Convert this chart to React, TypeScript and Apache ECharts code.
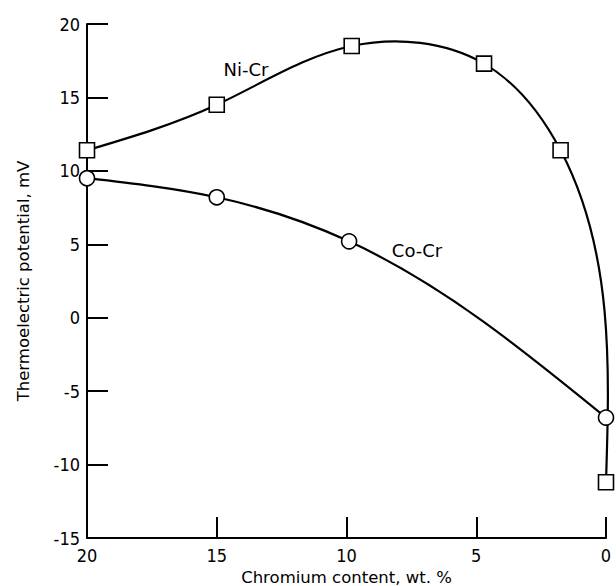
import React, { useEffect, useRef } from "react";
import * as echarts from "echarts";

// Chromium content (wt. %) and thermoelectric potential (mV)
const niCrChromium = [20, 15, 9.8, 4.7, 1.75, 0];
const niCrPotential = [11.4, 14.5, 18.5, 17.3, 11.4, -11.2];
const coCrChromium = [20, 15, 9.9, 0];
const coCrPotential = [9.5, 8.2, 5.2, -6.8];

const xTicks = { min: 0, max: 20, interval: 5 };
const yTicks = { min: -15, max: 20, interval: 5 };

const TICK_FONT = "'DejaVu Sans Condensed', 'Liberation Sans Narrow', sans-serif";
const TEXT_FONT = "'DejaVu Sans', 'Liberation Sans', sans-serif";

const pairs = (xs: number[], ys: number[]) => xs.map((x, i) => [x, ys[i]]);

// Second derivatives of a natural cubic spline through values v at knots t.
function naturalSecondDerivs(t: number[], v: number[]): number[] {
  const n = t.length;
  const M = new Array(n).fill(0);
  if (n < 3) return M;
  const h = t.slice(1).map((ti, i) => ti - t[i]);
  const s = h.map((hi, i) => (v[i + 1] - v[i]) / hi);
  const m = n - 2;
  const a: number[] = [], b: number[] = [], c: number[] = [], d: number[] = [];
  for (let i = 1; i <= m; i++) {
    a.push(h[i - 1]);
    b.push(2 * (h[i - 1] + h[i]));
    c.push(h[i]);
    d.push(6 * (s[i] - s[i - 1]));
  }
  for (let i = 1; i < m; i++) {
    const w = a[i] / b[i - 1];
    b[i] -= w * c[i - 1];
    d[i] -= w * d[i - 1];
  }
  const x = new Array(m).fill(0);
  x[m - 1] = d[m - 1] / b[m - 1];
  for (let i = m - 2; i >= 0; i--) x[i] = (d[i] - c[i] * x[i + 1]) / b[i];
  for (let i = 0; i < m; i++) M[i + 1] = x[i];
  return M;
}

// Smooth path (chord-length parametrised natural spline) through pixel points.
function splinePath(pts: number[][]): string {
  const n = pts.length;
  const t = [0];
  for (let i = 1; i < n; i++) {
    t.push(t[i - 1] + Math.hypot(pts[i][0] - pts[i - 1][0], pts[i][1] - pts[i - 1][1]));
  }
  const xs = pts.map((p) => p[0]);
  const ys = pts.map((p) => p[1]);
  const Mx = naturalSecondDerivs(t, xs);
  const My = naturalSecondDerivs(t, ys);
  let d = `M${xs[0]},${ys[0]}`;
  for (let i = 0; i < n - 1; i++) {
    const h = t[i + 1] - t[i];
    const sx = (xs[i + 1] - xs[i]) / h;
    const sy = (ys[i + 1] - ys[i]) / h;
    const dx0 = sx - (h * (2 * Mx[i] + Mx[i + 1])) / 6;
    const dy0 = sy - (h * (2 * My[i] + My[i + 1])) / 6;
    const dx1 = sx + (h * (Mx[i] + 2 * Mx[i + 1])) / 6;
    const dy1 = sy + (h * (My[i] + 2 * My[i + 1])) / 6;
    const c1 = [xs[i] + (dx0 * h) / 3, ys[i] + (dy0 * h) / 3];
    const c2 = [xs[i + 1] - (dx1 * h) / 3, ys[i + 1] - (dy1 * h) / 3];
    d += ` C${c1[0]},${c1[1]} ${c2[0]},${c2[1]} ${xs[i + 1]},${ys[i + 1]}`;
  }
  return d;
}

function curveSeries(name: string, xs: number[], ys: number[]) {
  return {
    name,
    type: "custom",
    silent: true,
    data: pairs(xs, ys),
    encode: { x: 0, y: 1 },
    z: 2,
    renderItem: (params: any, api: any) => {
      if (params.dataIndex !== 0) return null;
      const pts = xs.map((x, i) => api.coord([x, ys[i]]));
      return {
        type: "path",
        shape: { pathData: splinePath(pts) },
        style: { fill: "none", stroke: "#000", lineWidth: 2.2 },
      };
    },
  };
}

function markerSeries(name: string, xs: number[], ys: number[], symbol: string, size: number) {
  return {
    name,
    type: "scatter",
    data: pairs(xs, ys),
    symbol,
    symbolSize: size,
    itemStyle: { color: "#fff", borderColor: "#000", borderWidth: 1.6, opacity: 1 },
    z: 4,
  };
}

export default function App() {
  const ref = useRef<HTMLDivElement>(null);

  useEffect(() => {
    if (!ref.current) return;
    const chart = echarts.init(ref.current, undefined, { renderer: "svg" });
    const axisCommon = {
      axisLine: { show: true, onZero: false, lineStyle: { color: "#000", width: 2 } },
      axisTick: { show: true, inside: true, length: 21, lineStyle: { color: "#000", width: 2 } },
      splitLine: { show: false },
      axisLabel: { color: "#000", fontFamily: TICK_FONT, fontSize: 18 },
    };
    chart.setOption({
      animation: false,
      backgroundColor: "#fff",
      grid: { left: 87, right: 10, top: 24, bottom: 48, containLabel: false, outerBoundsMode: "none" },
      xAxis: {
        type: "value",
        position: "bottom",
        inverse: true,
        ...xTicks,
        name: "Chromium content, wt. %",
        nameLocation: "middle",
        nameGap: 28,
        nameTextStyle: { color: "#000", fontFamily: TEXT_FONT, fontSize: 16.5 },
        ...axisCommon,
        axisLabel: { ...axisCommon.axisLabel, margin: 8 },
      },
      yAxis: {
        type: "value",
        position: "left",
        ...yTicks,
        name: "Thermoelectric potential, mV",
        nameLocation: "middle",
        nameGap: 55,
        nameTextStyle: { color: "#000", fontFamily: TEXT_FONT, fontSize: 16.5 },
        ...axisCommon,
        axisLabel: { ...axisCommon.axisLabel, margin: 7 },
      },
      series: [
        curveSeries("Ni-Cr curve", niCrChromium, niCrPotential),
        curveSeries("Co-Cr curve", coCrChromium, coCrPotential),
        markerSeries("Ni-Cr", niCrChromium, niCrPotential, "rect", 15),
        markerSeries("Co-Cr", coCrChromium, coCrPotential, "circle", 15),
      ],
      graphic: [
        {
          type: "text",
          x: 246,
          y: 69,
          style: { text: "Ni-Cr", fill: "#000", font: `18px ${TEXT_FONT}`, textAlign: "center", textVerticalAlign: "middle" },
        },
        {
          type: "text",
          x: 417,
          y: 250,
          style: { text: "Co-Cr", fill: "#000", font: `18px ${TEXT_FONT}`, textAlign: "center", textVerticalAlign: "middle" },
        },
      ],
    });
    return () => chart.dispose();
  }, []);

  return <div ref={ref} style={{ width: 616, height: 586, position: "absolute", left: 0, top: 0 }} />;
}
